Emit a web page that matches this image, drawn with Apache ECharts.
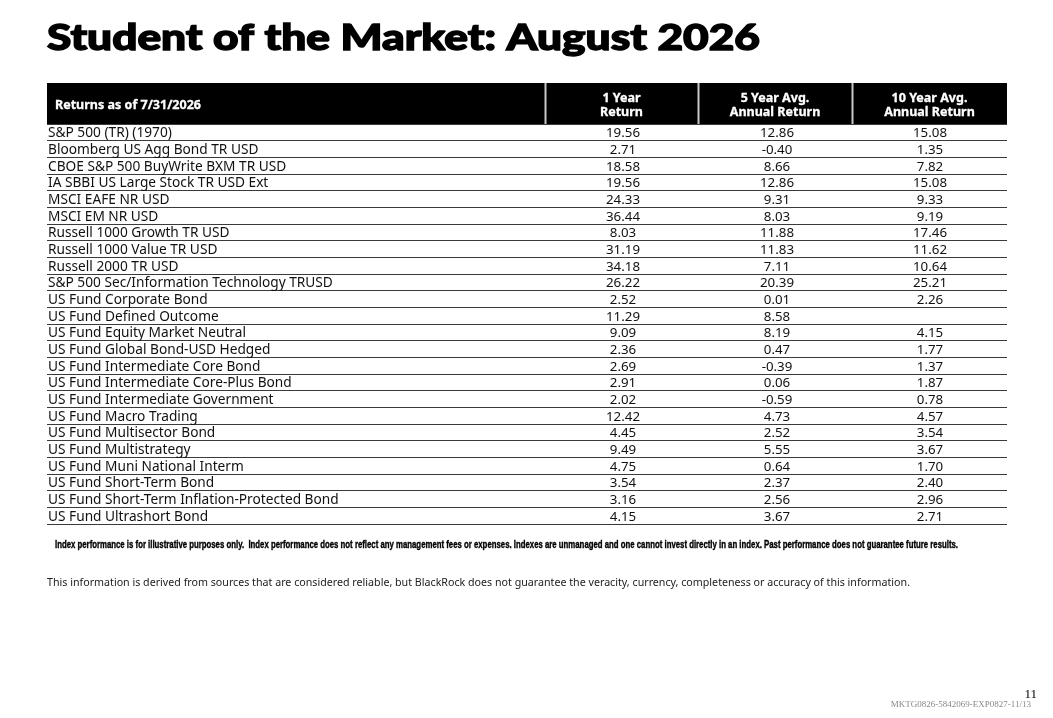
<!DOCTYPE html>
<html>
<head>
<meta charset="utf-8">
<script src="https://cdn.jsdelivr.net/npm/echarts@6/dist/echarts.min.js"></script>
<style>html,body{margin:0;padding:0;background:#fff;}#main{width:1053px;height:718px;}</style>
</head>
<body>
<div id="main"></div>
<script>
const titleText = 'Student of the Market: August 2026';
const columnHeaders = ['Returns as of 7/31/2026', '1 Year\nReturn', '5 Year Avg.\nAnnual Return', '10 Year Avg.\nAnnual Return'];
const rowNames = [
  'S&P 500 (TR) (1970)',
  'Bloomberg US Agg Bond TR USD',
  'CBOE S&P 500 BuyWrite BXM TR USD',
  'IA SBBI US Large Stock TR USD Ext',
  'MSCI EAFE NR USD',
  'MSCI EM NR USD',
  'Russell 1000 Growth TR USD',
  'Russell 1000 Value TR USD',
  'Russell 2000 TR USD',
  'S&P 500 Sec/Information Technology TRUSD',
  'US Fund Corporate Bond',
  'US Fund Defined Outcome',
  'US Fund Equity Market Neutral',
  'US Fund Global Bond-USD Hedged',
  'US Fund Intermediate Core Bond',
  'US Fund Intermediate Core-Plus Bond',
  'US Fund Intermediate Government',
  'US Fund Macro Trading',
  'US Fund Multisector Bond',
  'US Fund Multistrategy',
  'US Fund Muni National Interm',
  'US Fund Short-Term Bond',
  'US Fund Short-Term Inflation-Protected Bond',
  'US Fund Ultrashort Bond'
];
const oneYear = [19.56, 2.71, 18.58, 19.56, 24.33, 36.44, 8.03, 31.19, 34.18, 26.22, 2.52, 11.29, 9.09, 2.36, 2.69, 2.91, 2.02, 12.42, 4.45, 9.49, 4.75, 3.54, 3.16, 4.15];
const fiveYear = [12.86, -0.40, 8.66, 12.86, 9.31, 8.03, 11.88, 11.83, 7.11, 20.39, 0.01, 8.58, 8.19, 0.47, -0.39, 0.06, -0.59, 4.73, 2.52, 5.55, 0.64, 2.37, 2.56, 3.67];
const tenYear = [15.08, 1.35, 7.82, 15.08, 9.33, 9.19, 17.46, 11.62, 10.64, 25.21, 2.26, null, 4.15, 1.77, 1.37, 1.87, 0.78, 4.57, 3.54, 3.67, 1.70, 2.40, 2.96, 2.71];
const footnote1 = 'Index performance is for illustrative purposes only.  Index performance does not reflect any management fees or expenses. Indexes are unmanaged and one cannot invest directly in an index. Past performance does not guarantee future results.';
const footnote2 = 'This information is derived from sources that are considered reliable, but BlackRock does not guarantee the veracity, currency, completeness or accuracy of this information.';
const pageNumber = '11';
const docCode = 'MKTG0826-5842069-EXP0827-11/13';

// layout
const G = {left: 47, top: 124, width: 960, height: 400};
const NAME_UNITS = 3.25;
const X_MAX = 6.25;
const colCenters = [NAME_UNITS + 0.5, NAME_UNITS + 1.5, NAME_UNITS + 2.5];
const FONT = '"Noto Sans", "Open Sans", sans-serif';

function measure(text, font) {
  const c = document.createElement('canvas').getContext('2d');
  c.font = font;
  return c.measureText(text).width;
}

const titleFont = '900 36px Lato';
const titleScale = 713 / measure(titleText, titleFont);
const fn1Font = 'bold 10px "Liberation Sans"';
const fn1Scale = 903 / measure(footnote1, fn1Font);
const fn2Font = '11px "Noto Sans"';
const fn2Scale = 863 / measure(footnote2, fn2Font);
const hdrFont = 'bold 12.5px ' + FONT;
const hdrScale = 146 / measure(columnHeaders[0], hdrFont);

function textSeries(values, xVal, align, fmt, size, dx) {
  return {
    type: 'custom',
    coordinateSystem: 'cartesian2d',
    encode: {x: 0, y: 1},
    data: values.map((v, i) => [xVal, i, v]),
    renderItem: function (params, api) {
      const v = values[params.dataIndex];
      const p = api.coord([api.value(0), api.value(1)]);
      return {
        type: 'text',
        x: Math.round(p[0] + dx), y: Math.round(p[1] + 1),
        style: {
          text: fmt(v),
          fill: '#111',
          font: size + 'px ' + FONT,
          textAlign: align,
          textVerticalAlign: 'middle'
        }
      };
    }
  };
}
const numFmt = v => (v === null || v === undefined) ? '' : Number(v).toFixed(2);
const strFmt = v => v;

const hdrCenters = [621.5, 775, 929.5];
const graphic = [
  {type: 'text', x: 47, y: 38, scaleX: titleScale, z: 100,
   style: {text: titleText, font: titleFont, fill: '#000', stroke: '#000', lineWidth: 1.4, textVerticalAlign: 'middle'}},
  {type: 'rect', shape: {x: 47, y: 83, width: 960, height: 41}, style: {fill: '#000'}, z: 100},
  {type: 'line', shape: {x1: 545.5, y1: 83, x2: 545.5, y2: 124}, style: {stroke: '#c8c8c8', lineWidth: 2}, z: 101},
  {type: 'line', shape: {x1: 698.5, y1: 83, x2: 698.5, y2: 124}, style: {stroke: '#c8c8c8', lineWidth: 2}, z: 101},
  {type: 'line', shape: {x1: 852.5, y1: 83, x2: 852.5, y2: 124}, style: {stroke: '#c8c8c8', lineWidth: 2}, z: 101},
  {type: 'text', x: 55, y: 105, scaleX: hdrScale, z: 102,
   style: {text: columnHeaders[0], font: hdrFont, fill: '#fff', stroke: '#fff', lineWidth: 0.3, textVerticalAlign: 'middle'}},
  {type: 'line', shape: {x1: 47, y1: 524.5, x2: 1007, y2: 524.5}, style: {stroke: '#3a3a3a', lineWidth: 1}, z: 50},
  {type: 'text', x: 55, y: 545, scaleX: fn1Scale, z: 100,
   style: {text: footnote1, font: fn1Font, fill: '#000', stroke: '#000', lineWidth: 0.35, textVerticalAlign: 'middle'}},
  {type: 'text', x: 47, y: 583, scaleX: fn2Scale, z: 100,
   style: {text: footnote2, font: fn2Font, fill: '#222', textVerticalAlign: 'middle'}},
  {type: 'text', x: 1037, y: 695, z: 100,
   style: {text: pageNumber, font: '13px "Liberation Serif"', fill: '#000', textAlign: 'right', textVerticalAlign: 'middle'}},
  {type: 'text', x: 1031, y: 705, z: 100,
   style: {text: docCode, font: '9px "Liberation Serif"', fill: '#888', textAlign: 'right', textVerticalAlign: 'middle'}}
];
for (let k = 1; k < 4; k++) {
  graphic.push({type: 'text', x: hdrCenters[k - 1], y: 105.5, scaleX: hdrScale, z: 102,
    style: {text: columnHeaders[k], font: hdrFont, fill: '#fff', stroke: '#fff', lineWidth: 0.3, textAlign: 'center',
            textVerticalAlign: 'middle', lineHeight: 14}});
}

const chart = echarts.init(document.getElementById('main'), null, {renderer: 'canvas'});
chart.setOption({
  backgroundColor: '#fff',
  animation: false,
  grid: {left: G.left, top: G.top, width: G.width, height: G.height, containLabel: false},
  xAxis: {type: 'value', min: 0, max: X_MAX, show: false},
  yAxis: {
    type: 'category', data: rowNames, inverse: true,
    axisLine: {show: false}, axisTick: {show: false}, axisLabel: {show: false},
    splitLine: {show: true, interval: 0, lineStyle: {color: '#3a3a3a', width: 1}}
  },
  graphic: graphic,
  series: [
    textSeries(rowNames, 0, 'left', strFmt, 13.7, 1),
    textSeries(oneYear, colCenters[0], 'center', numFmt, 13.3, 0),
    textSeries(fiveYear, colCenters[1], 'center', numFmt, 13.3, 0),
    textSeries(tenYear, colCenters[2], 'center', numFmt, 13.3, 0)
  ]
});
</script>
</body>
</html>
